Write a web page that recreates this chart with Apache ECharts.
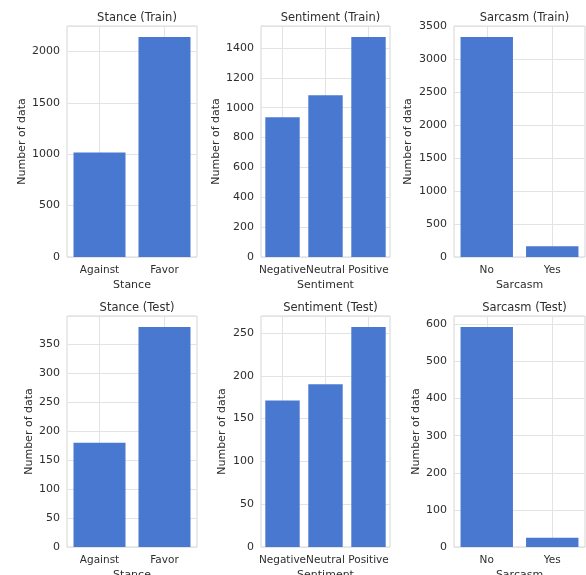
<!DOCTYPE html>
<html>
<head>
<meta charset="utf-8">
<script src="https://cdn.jsdelivr.net/npm/echarts@6/dist/echarts.min.js"></script>
<style>
  html, body { margin: 0; padding: 0; background: #fff; }
  #chart { width: 586px; height: 575px; }
</style>
</head>
<body>
<div id="chart"></div>
<script>
// categories
const stanceCats = ['Against', 'Favor']
const sentimentCats = ['Negative', 'Neutral', 'Positive']
const sarcasmCats = ['No', 'Yes']
// counts
const stanceTrain = [1016, 2140]
const sentimentTrain = [936, 1084, 1474]
const sarcasmTrain = [3334, 163]
const stanceTest = [180, 380]
const sentimentTest = [171, 190, 257]
const sarcasmTest = [593, 25]
// y tick steps
const yStepsTrain = [500, 200, 500]
const yStepsTest = [50, 50, 100]

const textColor = '#2e2e2e'
const gridColor = '#e3e3e3'
const barColor = '#4878d0'
const font = 'DejaVu Sans'

const panels = [
  { title: 'Stance (Train)', name: 'Stance', cats: stanceCats, data: stanceTrain, step: yStepsTrain[0], left: 67, width: 130, top: 26, gap: 38 },
  { title: 'Sentiment (Train)', name: 'Sentiment', cats: sentimentCats, data: sentimentTrain, step: yStepsTrain[1], left: 261, width: 129, top: 26, gap: 38 },
  { title: 'Sarcasm (Train)', name: 'Sarcasm', cats: sarcasmCats, data: sarcasmTrain, step: yStepsTrain[2], left: 454, width: 131, top: 26, gap: 40 },
  { title: 'Stance (Test)', name: 'Stance', cats: stanceCats, data: stanceTest, step: yStepsTest[0], left: 67, width: 130, top: 316, gap: 32 },
  { title: 'Sentiment (Test)', name: 'Sentiment', cats: sentimentCats, data: sentimentTest, step: yStepsTest[1], left: 261, width: 129, top: 316, gap: 33 },
  { title: 'Sarcasm (Test)', name: 'Sarcasm', cats: sarcasmCats, data: sarcasmTest, step: yStepsTest[2], left: 454, width: 131, top: 316, gap: 32 }
]
const plotHeight = 231

let grids = []
let xAxes = []
let yAxes = []
let series = []
let titles = []
panels.forEach((p, i) => {
  grids.push({
    left: p.left,
    top: p.top,
    width: p.width,
    height: plotHeight,
    show: true,
    borderColor: '#d6d6d6',
    borderWidth: 1,
    containLabel: false,
    outerBoundsMode: 'none'
  })
  titles.push({
    text: p.title,
    left: p.left + p.width / 2,
    top: p.top - 19,
    textAlign: 'center',
    textStyle: { fontFamily: font, fontSize: 11.5, fontWeight: 'normal', color: textColor }
  })
  xAxes.push({
    type: 'category',
    gridIndex: i,
    data: p.cats,
    name: p.name,
    nameLocation: 'middle',
    nameGap: 23,
    nameTextStyle: { fontFamily: font, fontSize: 11, color: textColor },
    axisLine: { show: false },
    axisTick: { show: false },
    axisLabel: { interval: 0, margin: 8, fontFamily: font, fontSize: 10.5, color: textColor },
    // grid lines through the category centres, as in the original
    splitLine: { show: true, alignWithLabel: true, lineStyle: { color: gridColor, width: 1 } }
  })
  let maxVal = Math.max(...p.data) * 1.05
  yAxes.push({
    type: 'value',
    gridIndex: i,
    min: 0,
    max: maxVal,
    interval: p.step,
    name: 'Number of data',
    nameLocation: 'middle',
    nameGap: p.gap,
    nameTextStyle: { fontFamily: font, fontSize: 11, color: textColor },
    axisLine: { show: false },
    axisTick: { show: false },
    axisLabel: {
      margin: 7,
      fontFamily: font,
      fontSize: 11,
      color: textColor,
      formatter: v => (Math.abs(v % p.step) < 1e-6 ? String(v) : '')
    },
    splitLine: { show: true, lineStyle: { color: gridColor, width: 1 } }
  })
  series.push({
    type: 'bar',
    xAxisIndex: i,
    yAxisIndex: i,
    data: p.data,
    barCategoryGap: '20%',
    itemStyle: { color: barColor },
    silent: true
  })
})

const myChart = echarts.init(document.getElementById('chart'), null, { renderer: 'canvas' })
myChart.setOption({
  animation: false,
  backgroundColor: '#fff',
  title: titles,
  grid: grids,
  xAxis: xAxes,
  yAxis: yAxes,
  series: series
})
</script>
</body>
</html>
